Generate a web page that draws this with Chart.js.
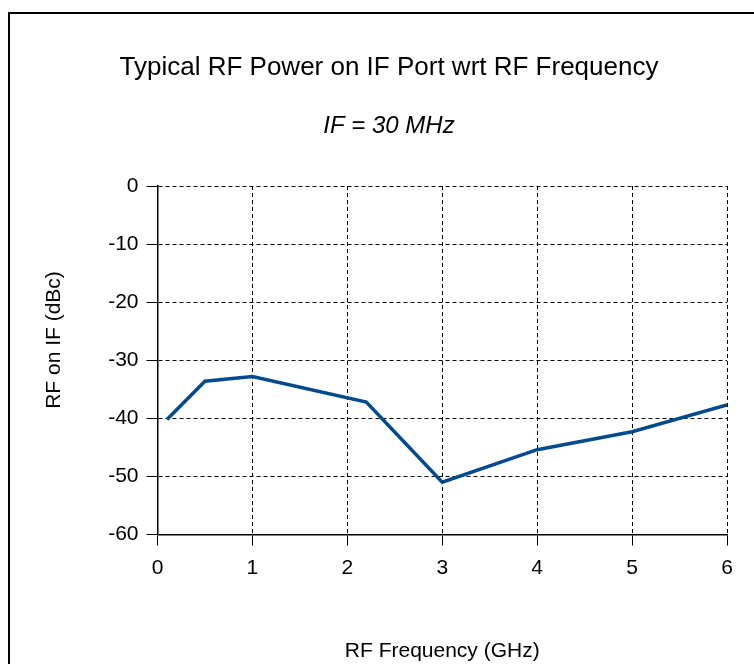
<!DOCTYPE html>
<html>
<head>
<meta charset="utf-8">
<title>Typical RF Power on IF Port wrt RF Frequency</title>
<script src="https://cdn.jsdelivr.net/npm/chart.js@4.4.1/dist/chart.umd.min.js"></script>
<style>
  html, body { margin: 0; padding: 0; background: #fff; }
  canvas { display: block; }
</style>
</head>
<body>
<canvas id="rfChart" width="754" height="664"></canvas>
<script>
// RF frequency (GHz) and RF power seen on the IF port (dBc)
const rfFreqGHz = [0.1, 0.5, 1.0, 2.2, 3.0, 4.0, 5.0, 6.0];
const rfOnIfDbc = [-40.2, -33.6, -32.8, -37.2, -51.0, -45.4, -42.3, -37.7];

const xTicks = [0, 1, 2, 3, 4, 5, 6];
const yTicks = [0, -10, -20, -30, -40, -50, -60];

const yAxisTitle = 'RF on IF (dBc)';
const fontFamily = '"Liberation Sans", Arial, sans-serif';

// outer frame (runs off the right and bottom edges like the original)
// and the y axis title, which sits centred on the frame, not the plot
const framePlugin = {
    id: 'frame',
    beforeDraw(chart) {
        const c = chart.ctx;
        c.save();
        c.fillStyle = '#fff';
        c.fillRect(0, 0, chart.width, chart.height);
        c.strokeStyle = '#000';
        c.lineWidth = 2;
        c.strokeRect(9, 13, chart.width + 20, chart.height + 20);
        c.restore();
    },
    afterDraw(chart) {
        const c = chart.ctx;
        c.save();
        c.translate(54, 340);
        c.rotate(-Math.PI / 2);
        c.font = '21px ' + fontFamily;
        c.fillStyle = '#000';
        c.textAlign = 'center';
        c.textBaseline = 'middle';
        c.fillText(yAxisTitle, 0, 0);
        c.restore();
    }
};

const points = rfFreqGHz.map((f, i) => ({ x: f, y: rfOnIfDbc[i] }));

const ctx = document.getElementById('rfChart').getContext('2d');
window.rfChart = new Chart(ctx, {
    type: 'line',
    data: {
        datasets: [{
            label: 'RF on IF',
            data: points,
            borderColor: '#004a8d',
            borderWidth: 3.5,
            pointRadius: 0,
            tension: 0,
            fill: false
        }]
    },
    options: {
        responsive: false,
        animation: false,
        // left padding pushes the title centre to match the frame centre
        layout: { padding: { left: 51, right: 27, top: 0, bottom: 0 } },
        plugins: {
            legend: { display: false },
            tooltip: { enabled: false },
            title: {
                display: true,
                text: 'Typical RF Power on IF Port wrt RF Frequency',
                color: '#000',
                font: { family: fontFamily, size: 26, weight: 'normal' },
                padding: { top: 52, bottom: 0 }
            },
            subtitle: {
                display: true,
                text: 'IF = 30 MHz',
                color: '#000',
                font: { family: fontFamily, size: 24, style: 'italic', weight: 'normal' },
                padding: { top: 29, bottom: 45 }
            }
        },
        scales: {
            x: {
                type: 'linear',
                min: 0,
                max: 6,
                afterBuildTicks: axis => { axis.ticks = xTicks.map(v => ({ value: v })); },
                afterFit: axis => { axis.height = 129.5; },
                ticks: {
                    color: '#000',
                    padding: 10,
                    font: { family: fontFamily, size: 21 }
                },
                grid: {
                    color: '#000',
                    lineWidth: 1,
                    tickLength: 11,
                    tickColor: '#000'
                },
                border: { display: true, color: '#000', width: 1.5, dash: [4, 3] },
                title: {
                    display: true,
                    text: 'RF Frequency (GHz)',
                    color: '#000',
                    font: { family: fontFamily, size: 21 },
                    padding: { top: 0, bottom: 0 }
                }
            },
            y: {
                type: 'linear',
                min: -60,
                max: 0,
                afterBuildTicks: axis => { axis.ticks = yTicks.map(v => ({ value: v })); },
                afterFit: axis => { axis.width = 106.5; },
                ticks: {
                    color: '#000',
                    padding: 8,
                    font: { family: fontFamily, size: 21 }
                },
                grid: {
                    color: '#000',
                    lineWidth: 1,
                    tickLength: 11,
                    tickColor: '#000'
                },
                border: { display: true, color: '#000', width: 1.5, dash: [4, 3] },
                title: { display: false }
            }
        }
    },
    plugins: [framePlugin]
});
</script>
</body>
</html>
